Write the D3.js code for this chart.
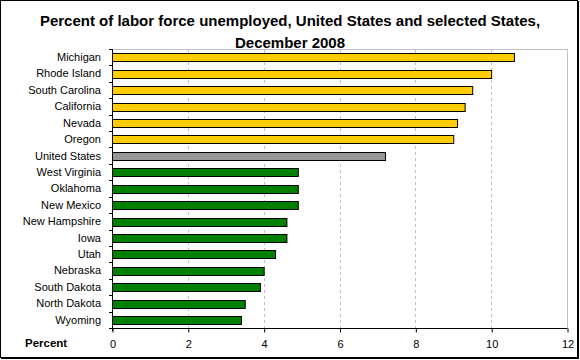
<!DOCTYPE html>
<html><head><meta charset="utf-8">
<script src="https://cdn.jsdelivr.net/npm/d3@7"></script>
<style>body{margin:0;background:#fff}svg{display:block}</style>
</head><body>
<svg id="c" width="580" height="360"></svg>
<script>
const categories = ["Michigan","Rhode Island","South Carolina","California","Nevada","Oregon","United States","West Virginia","Oklahoma","New Mexico","New Hampshire","Iowa","Utah","Nebraska","South Dakota","North Dakota","Wyoming"];
const values = [10.6,10.0,9.5,9.3,9.1,9.0,7.2,4.9,4.9,4.9,4.6,4.6,4.3,4.0,3.9,3.5,3.4];
const groups = ["high","high","high","high","high","high","us","low","low","low","low","low","low","low","low","low","low"];
const xTicks = [0,2,4,6,8,10,12];
const titleLines = ["Percent of labor force unemployed, United States and selected States,","December 2008"];
const axisLabel = "Percent";

const colors = {high:"#FFCC00", us:"#969696", low:"#008000"};
const svg = d3.select("#c");
const font = "Arial, 'Liberation Sans', sans-serif";
const L = 112, R = 567, T = 49, B = 328;

svg.append("rect").attr("x",0.5).attr("y",0.5).attr("width",577).attr("height",357)
  .attr("fill","#fff").attr("stroke","#000").attr("stroke-width",1);
svg.append("line").attr("x1",578.5).attr("x2",578.5).attr("y1",1).attr("y2",359).attr("stroke","#000");
svg.append("line").attr("x1",1).attr("x2",579).attr("y1",358.5).attr("y2",358.5).attr("stroke","#000");

const x = d3.scaleLinear().domain([0,12]).range([L,R]);
const y = d3.scaleBand().domain(categories).range([T,B]).paddingInner(0.54).paddingOuter(0.27);

// title
svg.append("g").selectAll("text").data(titleLines).join("text")
  .attr("x",290).attr("y",(d,i)=>26+i*22).attr("text-anchor","middle")
  .attr("font-family",font).attr("font-weight","bold").attr("font-size","15px").text(d=>d);

// plot border (top & right gray)
svg.append("line").attr("x1",L).attr("x2",R+0.5).attr("y1",T+0.5).attr("y2",T+0.5).attr("stroke","#c0c0c0");
svg.append("line").attr("x1",R+0.5).attr("x2",R+0.5).attr("y1",T).attr("y2",B).attr("stroke","#c0c0c0");

// gridlines
svg.append("g").selectAll("line").data(xTicks.filter(t=>t>0&&t<12)).join("line")
  .attr("x1",d=>Math.round(x(d))+0.5).attr("x2",d=>Math.round(x(d))+0.5)
  .attr("y1",T+1).attr("y2",B).attr("stroke","#c0c0c0").attr("stroke-dasharray","3,3");

// bars
svg.append("g").selectAll("rect").data(categories).join("rect")
  .attr("x",x(0)+0.5).attr("y",d=>Math.round(y(d))+0.5)
  .attr("width",(d,i)=>x(values[i])-x(0))
  .attr("height",Math.round(y.bandwidth()))
  .attr("fill",(d,i)=>colors[groups[i]]).attr("stroke","#000").attr("stroke-width",1);

// x axis
const xAxis = d3.axisBottom(x).tickValues(xTicks).tickSize(4).tickPadding(8).tickFormat(d3.format("d"));
const gx = svg.append("g").attr("transform",`translate(0.5,${B+0.5})`).call(xAxis);
gx.select(".domain").attr("d",`M${L-0.5},0H${R}`).attr("stroke","#000");
gx.selectAll("text").attr("font-family",font).attr("font-size","11px").attr("fill","#000");

// y axis line + ticks at band boundaries
const step = (B-T)/categories.length;
svg.append("line").attr("x1",L+0.5).attr("x2",L+0.5).attr("y1",T).attr("y2",B+3).attr("stroke","#000");
svg.append("g").selectAll("line").data(d3.range(categories.length+1)).join("line")
  .attr("x1",L-3).attr("x2",L+1).attr("y1",i=>Math.round(T+i*step)+0.5).attr("y2",i=>Math.round(T+i*step)+0.5)
  .attr("stroke","#000");

// y labels
svg.append("g").selectAll("text").data(categories).join("text")
  .attr("x",101).attr("y",d=>y(d)+y.bandwidth()/2).attr("dy","0.35em")
  .attr("text-anchor","end").attr("font-family",font).attr("font-size","11px").text(d=>d);

svg.append("text").attr("x",25).attr("y",347).attr("font-family",font).attr("font-weight","bold")
  .attr("font-size","11.5px").text(axisLabel);
</script>
</body></html>
